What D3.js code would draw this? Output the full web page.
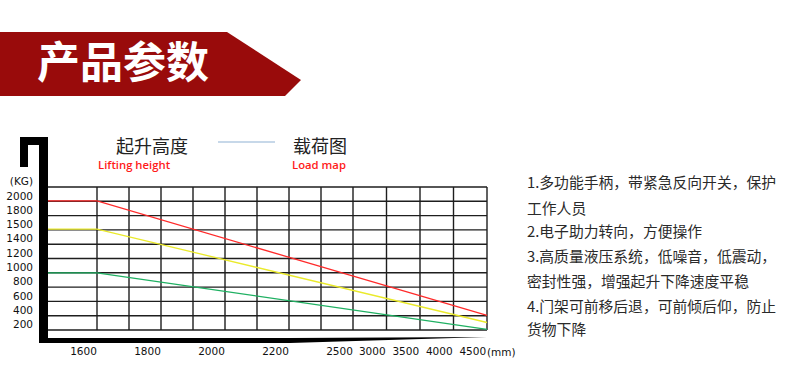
<!DOCTYPE html>
<html><head><meta charset="utf-8">
<script src="https://cdnjs.cloudflare.com/ajax/libs/d3/7.8.5/d3.min.js"></script>
<style>
html,body{margin:0;padding:0;background:#fff;}
svg{display:block;}
</style></head>
<body>
<script>
// ---- data ----
const title = "产品参数";
const legendLeft = "起升高度";
const legendLeftEn = "Lifting height";
const legendRight = "载荷图";
const legendRightEn = "Load map";
const yUnit = "(KG)";
const xUnit = "(mm)";
const yLabels = ["2000","1800","1500","1400","1200","1000","800","600","400","200"];
const xColumns = ["1600","","1800","","2000","","2200","","2500","3000","3500","4000","4500"];
// column boundary where curves bend and where they end
const bendCol = 1, endCol = 13;
const seriesNames = ["red","yellow","green"];
const seriesStart = [1905, 1455, 900];
const seriesEnd = [305, 205, 110];
const seriesColors = ["#ff2a2a","#eaea2a","#1fb062"];
const notes = [
  "1.多功能手柄，带紧急反向开关，保护",
  "工作人员",
  "2.电子助力转向，方便操作",
  "3.高质量液压系统，低噪音，低震动，",
  "密封性强，增强起升下降速度平稳",
  "4.门架可前移后退，可前倾后仰，防止",
  "货物下降"
];

// ---- layout ----
const W = 800, H = 366;
const plotLeft = 48, plotTop = 187, plotBottom = 330, plotRight = 487;
const svg = d3.select("body").append("svg").attr("width", W).attr("height", H);

// banner
svg.append("polygon")
  .attr("points", [[0,32],[227,32],[301,80],[285,96],[0,96]].map(p=>p.join(",")).join(" "))
  .attr("fill", "#990b0b");
svg.append("text").attr("x", 37).attr("y", 78)
  .attr("font-family", "'Noto Sans CJK SC'").attr("font-weight", "bold")
  .attr("font-size", 43).attr("fill", "#fff")
  .text(title);

// scales
const yBand = d3.scaleBand().domain(yLabels).range([plotTop, plotBottom]).padding(0);
const bw = yBand.bandwidth();
const yLoad = d3.scaleLinear().domain(yLabels.map(Number)).range(yLabels.map(l => yBand(l) + bw/2));
const xIdx = d3.scaleLinear().domain([0, 1, 9, 13]).range([65, 97, 353, plotRight]);

// grid
const g = svg.append("g");
const hLines = yLabels.map(l => yBand(l)).concat([plotBottom]);
g.selectAll("line.h").data(hLines).join("line")
  .attr("x1", plotLeft).attr("x2", plotRight)
  .attr("y1", d => d).attr("y2", d => d)
  .attr("stroke", "#1e1e1e").attr("stroke-width", 1.4);
const vLines = d3.range(1, endCol + 1);
g.selectAll("line.v").data(vLines).join("line")
  .attr("x1", d => xIdx(d)).attr("x2", d => xIdx(d))
  .attr("y1", plotTop).attr("y2", plotBottom)
  .attr("stroke", "#1e1e1e").attr("stroke-width", 1.4);

// curves
const line = d3.line().x(d => d[0]).y(d => d[1]);
seriesNames.forEach((n, i) => {
  const pts = [
    [plotLeft, yLoad(seriesStart[i])],
    [xIdx(bendCol), yLoad(seriesStart[i])],
    [xIdx(endCol), yLoad(seriesEnd[i])]
  ];
  svg.append("path").attr("d", line(pts)).attr("fill", "none")
    .attr("stroke", seriesColors[i]).attr("stroke-width", 1.3);
});

// black frame (hook + bottom wedge)
svg.append("path")
  .attr("d", "M20,137 H48 V338 H290 L487,337 L290,343 H39 V145 H28 V167 H20 Z")
  .attr("fill", "#000");

// y axis
const yAxis = d3.axisLeft(yBand).tickSize(0).tickPadding(3);
const ya = svg.append("g").attr("transform", "translate(36,2)").call(yAxis);
ya.select(".domain").remove();
ya.selectAll("text").attr("font-family", "'DejaVu Sans'").attr("font-size", 10.5).attr("fill", "#111");
svg.append("text").attr("x", 33).attr("y", 185).attr("text-anchor", "end")
  .attr("font-family", "'DejaVu Sans'").attr("font-size", 10.5).attr("fill", "#111").text(yUnit);

// x axis
const xTickVals = xColumns.map((d, i) => i).filter(i => xColumns[i] !== "");
const xAxis = d3.axisBottom(xIdx).tickValues(xTickVals.map(i => i + 0.5))
  .tickFormat(v => xColumns[Math.round(v - 0.5)]).tickSize(0).tickPadding(0);
const xa = svg.append("g").attr("transform", "translate(2,348)").call(xAxis);
xa.select(".domain").remove();
xa.selectAll("text").attr("font-family", "'DejaVu Sans'").attr("font-size", 10.5).attr("fill", "#111");
svg.append("text").attr("x", 487).attr("y", 355.5)
  .attr("font-family", "'DejaVu Sans'").attr("font-size", 10.5).attr("fill", "#111").text(xUnit);

// legend
svg.append("text").attr("x", 152).attr("y", 153).attr("text-anchor", "middle")
  .attr("font-family", "'Noto Sans CJK SC'").attr("font-size", 18).attr("fill", "#222").text(legendLeft);
svg.append("line").attr("x1", 218).attr("x2", 275).attr("y1", 142).attr("y2", 142)
  .attr("stroke", "#8fb2d4").attr("stroke-width", 1.2);
svg.append("text").attr("x", 320).attr("y", 153).attr("text-anchor", "middle")
  .attr("font-family", "'Noto Sans CJK SC'").attr("font-size", 18).attr("fill", "#222").text(legendRight);
svg.append("text").attr("x", 98).attr("y", 169)
  .attr("font-family", "'Open Sans'").attr("font-weight", 600).attr("font-size", 11.3).attr("fill", "#ff1a1a").text(legendLeftEn);
svg.append("text").attr("x", 292).attr("y", 169)
  .attr("font-family", "'Open Sans'").attr("font-weight", 600).attr("font-size", 11.3).attr("fill", "#ff1a1a").text(legendRightEn);

// notes
const noteY = [183, 209, 232, 257, 282, 307, 330];
svg.append("g").selectAll("text").data(notes).join("text")
  .attr("x", 527).attr("y", (d, i) => noteY[i] + 5)
  .attr("font-family", "'Noto Sans CJK SC'").attr("font-size", 14.8).attr("fill", "#2a2a2a")
  .text(d => d);
</script>
</body></html>
